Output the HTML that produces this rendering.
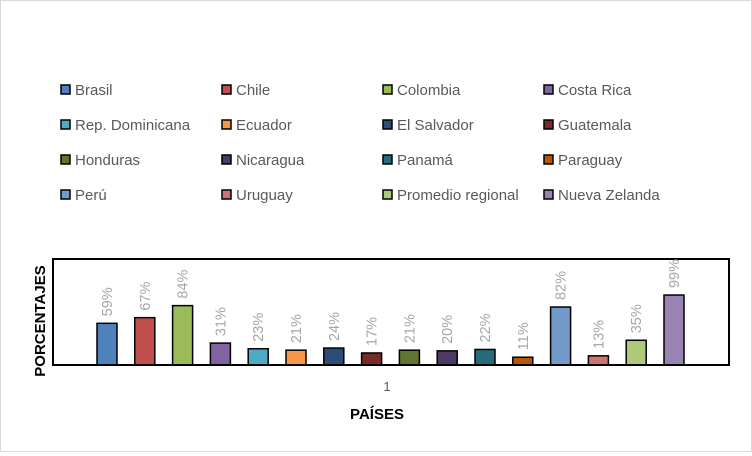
<!DOCTYPE html>
<html><head><meta charset="utf-8"><style>
body{margin:0;background:#fff;font-family:"Liberation Sans",sans-serif}
#c{position:relative;width:750px;height:450px;border:1px solid #d9d9d9;background:#fff}
</style></head><body>
<div id="c">
<svg id="s" width="750" height="450" xmlns="http://www.w3.org/2000/svg"></svg>
</div>
<script>
const categories=["Brasil","Chile","Colombia","Costa Rica","Rep. Dominicana","Ecuador","El Salvador","Guatemala","Honduras","Nicaragua","Panamá","Paraguay","Perú","Uruguay","Promedio regional","Nueva Zelanda"];
const values=[59,67,84,31,23,21,24,17,21,20,22,11,82,13,35,99];
const colors=["#4f81bd","#c0504d","#9bbb59","#8064a2","#4bacc6","#f79646","#2c4d75","#772c2a","#5f7530","#4d3b62","#276a7c","#b65708","#729aca","#cd7371","#afc97a","#9983b5"];
const NS="http://www.w3.org/2000/svg";
const s=document.getElementById('s');
function el(t,a,txt){const e=document.createElementNS(NS,t);for(const k in a)e.setAttribute(k,a[k]);if(txt!=null)e.textContent=txt;s.appendChild(e);return e;}
const base=364,yMax=150,plotH=106;
const y=v=>base-v/yMax*plotH;
const x=i=>96+i*37.8;
categories.forEach((c,i)=>{
 const col=i%4,row=Math.floor(i/4);
 const lx=60+col*161,ly=89+row*35;
 const r=el('rect',{x:lx,y:ly-5,width:9,height:9,fill:colors[i],stroke:'#000','stroke-width':1.5});
 
 
 const t=el('text',{x:lx+14,y:ly+5,'font-size':15,fill:'#595959'},c);
 
 
});
const pa=el('rect',{x:52,y:258,width:676,height:106,fill:'none',stroke:'#000','stroke-width':2});


values.forEach((v,i)=>{
 const b=el('rect',{x:x(i),y:y(v),width:20,height:base-y(v),fill:colors[i],stroke:'#000','stroke-width':1.5});
 
 
 const cx=x(i)+10,ty=y(v)-7;
 const t=el('text',{x:cx+5,y:ty,'font-size':14.5,fill:'#a6a6a6',transform:`rotate(-90 ${cx+5} ${ty})`},v+'%');
 
 
});
const ax=el('line',{x1:52,y1:364,x2:728,y2:364,stroke:'#000','stroke-width':2});


const tk=el('text',{x:386,y:390,'font-size':13,fill:'#595959','text-anchor':'middle'},'1');


const xt=el('text',{x:376,y:418,'font-size':15,'font-weight':'bold',fill:'#000','text-anchor':'middle'},'PAÍSES');


const yt=el('text',{x:44,y:320,'font-size':15,'font-weight':'bold',fill:'#000','text-anchor':'middle',transform:'rotate(-90 44 320)'},'PORCENTAJES');


</script>
</body></html>
